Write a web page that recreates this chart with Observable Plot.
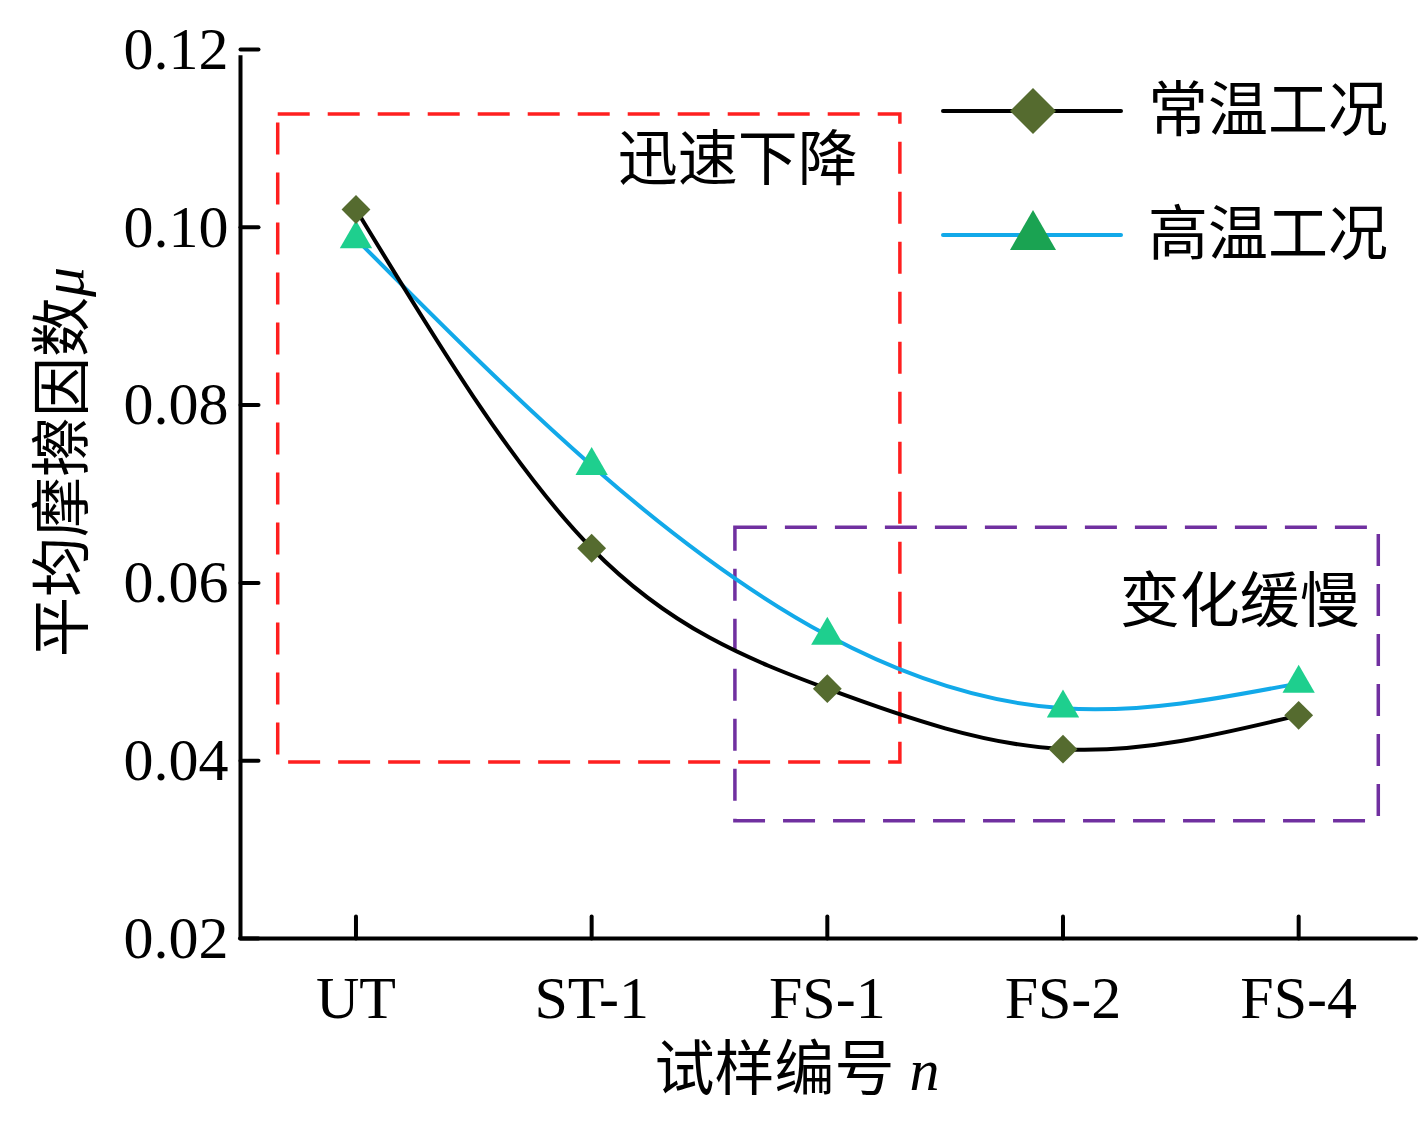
<!DOCTYPE html>
<html>
<head>
<meta charset="utf-8">
<script src="https://cdn.jsdelivr.net/npm/d3@7"></script>
<script src="https://cdn.jsdelivr.net/npm/@observablehq/plot@0.6"></script>
<style>
  html, body { margin: 0; padding: 0; background: #fff; }
  #wrap { position: relative; width: 1425px; height: 1138px; font-family: "Liberation Serif", "Noto Sans CJK SC", serif; }
  .ttl { position: absolute; font-size: 60px; color: #000; white-space: nowrap; line-height: 1.2; }
  #xlab { left: 797px; top: 1070px; transform: translate(-50%, -50%); }
  #ylab { left: 63px; top: 462px; transform: translate(-50%, -50%) rotate(-90deg); }
  #legend { position: absolute; left: 930px; top: 50px; }
</style>
</head>
<body>
<div id="wrap">
  <div id="chart"></div>
  <div id="xlab" class="ttl">试样编号 <i style="font-family:'Liberation Serif',serif">n</i></div>
  <div id="ylab" class="ttl">平均摩擦因数<i style="font-family:'Liberation Serif',serif">μ</i></div>
  <div id="legend"></div>
</div>
<script>
// ---- data ----
const categories = ["UT", "ST-1", "FS-1", "FS-2", "FS-4"];
const seriesNames = ["常温工况", "高温工况"];
const normalTemp = [0.1020, 0.0639, 0.0481, 0.0413, 0.0451];
const highTemp   = [0.0987, 0.0732, 0.0541, 0.0459, 0.0487];
const yTicks = [0.02, 0.04, 0.06, 0.08, 0.10, 0.12];
const regionLabels = ["迅速下降", "变化缓慢"];
const regionX1 = [-0.33, 1.61];
const regionX2 = [2.31, 4.34];
const regionY1 = [0.0398, 0.0332];
const regionY2 = [0.1127, 0.0662];
const regionLabelX = [1.62, 3.75];
const regionLabelY = [0.1075, 0.0578];

// ---- build tables ----
const xIdx = categories.map((c, i) => i);
const normalData = categories.map((c, i) => ({i, v: normalTemp[i]}));
const highData = categories.map((c, i) => ({i, v: highTemp[i]}));
const regions = regionLabels.map((label, k) => ({
  label, x1: regionX1[k], x2: regionX2[k], y1: regionY1[k], y2: regionY2[k],
  lx: regionLabelX[k], ly: regionLabelY[k]
}));
const regionColors = ["#ff1f1f", "#7030a0"];

const xDomain = [-0.49, 4.5];
const font = "'Liberation Serif', 'Noto Sans CJK SC', serif";
const tickShape = { draw(ctx, l) { ctx.moveTo(0, 0); ctx.lineTo(0, -l); } };

const chart = Plot.plot({
  width: 1425,
  height: 1138,
  marginLeft: 240,
  marginRight: 9,
  marginTop: 49,
  marginBottom: 200,
  style: { fontFamily: font, fontSize: "60px", color: "#000", background: "#fff" },
  x: { domain: xDomain },
  y: { domain: [0.02, 0.12] },
  marks: [
    Plot.rect(regions, {
      x1: "x1", x2: "x2", y1: "y1", y2: "y2", fill: "none",
      stroke: (d, k) => regionColors[k], strokeWidth: 3.5, strokeDasharray: "32,18"
    }),
    Plot.text(regions, {
      x: "lx", y: "ly", text: "label", fontSize: 60, fill: "#000",
      fontFamily: "'Noto Sans CJK SC', serif"
    }),
    Plot.line(highData, { x: "i", y: "v", curve: "natural", stroke: "#12a9e9", strokeWidth: 4 }),
    Plot.line(normalData, { x: "i", y: "v", curve: "natural", stroke: "#000", strokeWidth: 4 }),
    Plot.dot(highData, { x: "i", y: "v", symbol: "triangle", r: 12, fill: "#1ecf8e", stroke: "none" }),
    Plot.dot(normalData, { x: "i", y: "v", symbol: "diamond2", r: 13, fill: "#556b2f", stroke: "none" }),
    // axis lines
    Plot.ruleX([xDomain[0]], { y1: 0.02, y2: 0.1193, stroke: "#000", strokeWidth: 4 }),
    Plot.ruleY([0.02], { x1: xDomain[0], x2: xDomain[1], stroke: "#000", strokeWidth: 4, strokeLinecap: "round" }),
    // inward ticks
    Plot.vector(yTicks, { x: xDomain[0], y: d => d, length: 18, rotate: 90, anchor: "start", shape: tickShape, stroke: "#000", strokeWidth: 4 }),
    Plot.vector(xIdx, { x: d => d, y: 0.02, length: 22, rotate: 0, anchor: "start", shape: tickShape, stroke: "#000", strokeWidth: 4 }),
    // tick labels
    Plot.axisY(yTicks, { tickSize: 0, tickPadding: 12, tickFormat: d3.format(".2f"), label: null, fontSize: 60, fill: "#000" }),
    Plot.axisX(xIdx, { tickSize: 0, tickPadding: 37, tickFormat: i => categories[i], label: null, fontSize: 60, fill: "#000" })
  ]
});
document.getElementById("chart").appendChild(chart);

// ---- legend ----
const NS = "http://www.w3.org/2000/svg";
const leg = document.createElementNS(NS, "svg");
leg.setAttribute("width", 490);
leg.setAttribute("height", 260);
const legItems = [
  { name: seriesNames[0], line: "#000", sym: "diamond", fill: "#556b2f", y: 61 },
  { name: seriesNames[1], line: "#12a9e9", sym: "triangle", fill: "#1aa352", y: 185 }
];
legItems.forEach(it => {
  const l = document.createElementNS(NS, "line");
  l.setAttribute("x1", 13); l.setAttribute("x2", 191);
  l.setAttribute("y1", it.y); l.setAttribute("y2", it.y);
  l.setAttribute("stroke", it.line); l.setAttribute("stroke-width", 4);
  l.setAttribute("stroke-linecap", "round");
  leg.appendChild(l);
  const p = document.createElementNS(NS, "path");
  const cx = 103;
  if (it.sym === "diamond") {
    p.setAttribute("d", `M${cx},${it.y - 23}L${cx + 23},${it.y}L${cx},${it.y + 23}L${cx - 23},${it.y}Z`);
  } else {
    p.setAttribute("d", `M${cx},${it.y - 25}L${cx + 23},${it.y + 15}L${cx - 23},${it.y + 15}Z`);
  }
  p.setAttribute("fill", it.fill);
  leg.appendChild(p);
  const t = document.createElementNS(NS, "text");
  t.setAttribute("x", 218); t.setAttribute("y", it.y + 4);
  t.setAttribute("dominant-baseline", "middle");
  t.setAttribute("font-size", 60);
  t.setAttribute("font-family", "'Noto Sans CJK SC', serif");
  t.textContent = it.name;
  leg.appendChild(t);
});
document.getElementById("legend").appendChild(leg);
</script>
</body>
</html>
